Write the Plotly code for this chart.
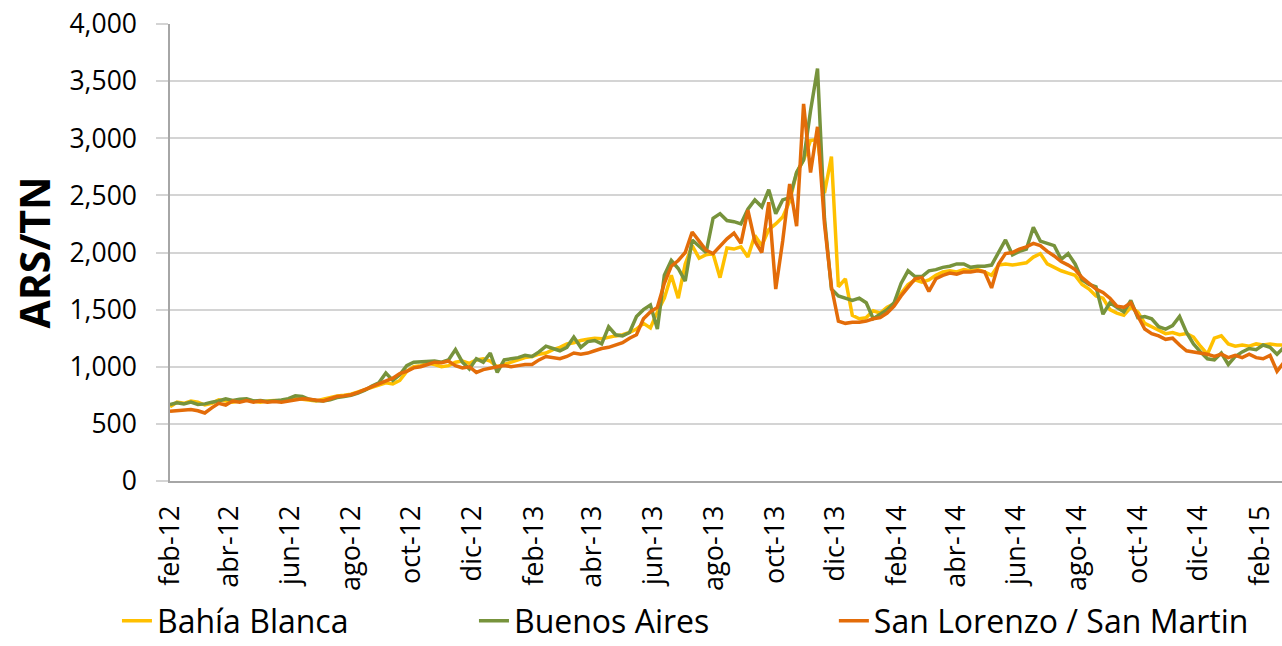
import pandas as pd
import plotly.graph_objects as go

# ── Weekly price samples, feb-2012 .. feb-2015 (ARS per tonne) ──────────────
dates = pd.date_range("2012-02-01", periods=161, freq="7D")

bahia_blanca = [
    650, 690, 680, 700, 690, 665, 680, 710, 700, 690, 700,
    710, 700, 690, 700, 705, 700, 710, 720, 715, 705,
    700, 715, 730, 745, 750, 760, 780, 800, 820, 845,
    860, 850, 880, 960, 1000, 1010, 1030, 1020, 1000, 1010,
    1040, 1050, 1030, 1060, 1070, 1050, 1000, 1020, 1040, 1060,
    1080, 1090, 1110, 1120, 1150, 1170, 1200, 1210, 1230, 1240,
    1250, 1245, 1260, 1270, 1280, 1300, 1330, 1380, 1340, 1480,
    1600, 1800, 1600, 1900, 2060, 1950, 1980, 1990, 1780, 2040,
    2030, 2050, 1960, 2150, 2060, 2200, 2250, 2310, 2450, 2700,
    2810, 2980, 2990, 2520, 2840, 1700, 1770, 1450, 1420, 1430,
    1490, 1470, 1520, 1550, 1640, 1720, 1760, 1740, 1760, 1800,
    1830, 1840, 1830, 1850, 1840, 1850, 1830, 1800, 1890, 1900,
    1890, 1900, 1910, 1960, 1990, 1900, 1870, 1840, 1820, 1800,
    1720, 1680, 1620, 1600, 1500, 1470, 1450, 1520, 1480, 1380,
    1350, 1320, 1290, 1300, 1280, 1290, 1260, 1180, 1110, 1250,
    1270, 1200, 1180, 1190, 1180, 1200, 1190, 1200, 1190, 1190,
]

buenos_aires = [
    670, 685, 675, 690, 670, 675, 690, 700, 720, 705, 715,
    720, 700, 705, 695, 700, 710, 720, 745, 740, 715,
    705, 700, 710, 730, 740, 750, 770, 795, 830, 860,
    945, 880, 930, 1010, 1040, 1045, 1050, 1050, 1040, 1060,
    1150, 1040, 980, 1070, 1040, 1120, 950, 1060, 1070, 1080,
    1100, 1090, 1130, 1180, 1160, 1140, 1170, 1260, 1170, 1220,
    1230, 1200, 1350, 1280, 1270, 1300, 1440, 1500, 1540, 1330,
    1800, 1930, 1860, 1750, 2110, 2050, 2000, 2300, 2340, 2280,
    2270, 2250, 2380, 2460, 2400, 2550, 2340, 2460, 2480, 2700,
    2810, 3240, 3610, 2300, 1680, 1620, 1600, 1580, 1600, 1560,
    1420, 1460, 1500, 1560, 1730, 1840, 1790, 1790, 1840, 1850,
    1870, 1880, 1900, 1900, 1870, 1880, 1880, 1890, 2000, 2110,
    1980, 2010, 2030, 2220, 2100, 2080, 2060, 1940, 1990, 1900,
    1760, 1720, 1700, 1460, 1560, 1520, 1480, 1580, 1430, 1440,
    1420, 1350, 1330, 1360, 1440, 1300, 1200, 1130, 1070, 1060,
    1120, 1020, 1090, 1130, 1160, 1150, 1190, 1170, 1110, 1170,
]

san_lorenzo = [
    610, 615, 620, 625, 615, 595, 640, 680, 665, 700, 690,
    705, 690, 700, 690, 695, 690, 700, 715, 720, 715,
    710, 700, 720, 740, 745, 755, 775, 800, 825, 850,
    880, 900, 940, 960, 990, 1000, 1020, 1040, 1035, 1050,
    1010, 990, 1000, 950, 975, 990, 1000, 1010, 1000, 1010,
    1020, 1020, 1060, 1090, 1080, 1070, 1090, 1120, 1110, 1120,
    1140, 1160, 1170, 1190, 1210, 1250, 1280, 1420, 1480, 1520,
    1730, 1880, 1930, 2000, 2180, 2100, 2020, 1990, 2060, 2120,
    2170, 2080, 2370, 2100, 2000, 2440, 1680, 2100, 2600, 2230,
    3300, 2700, 3100, 2250, 1700, 1400, 1380, 1390, 1390, 1400,
    1420, 1430, 1470, 1530, 1620, 1700, 1770, 1780, 1660, 1770,
    1800, 1820, 1810, 1830, 1830, 1840, 1830, 1690, 1900, 1990,
    2000, 2030, 2050, 2080, 2060, 2010, 1970, 1920, 1890, 1850,
    1780, 1730, 1680, 1650, 1600, 1530, 1520, 1560, 1450, 1330,
    1290, 1270, 1240, 1250, 1190, 1140, 1130, 1120, 1110, 1090,
    1110, 1080, 1100, 1080, 1110, 1080, 1070, 1100, 960, 1040,
]

tick_dates = [
    "2012-02-01", "2012-04-01", "2012-06-01", "2012-08-01", "2012-10-01",
    "2012-12-01", "2013-02-01", "2013-04-01", "2013-06-01", "2013-08-01",
    "2013-10-01", "2013-12-01", "2014-02-01", "2014-04-01", "2014-06-01",
    "2014-08-01", "2014-10-01", "2014-12-01", "2015-02-01",
]
tick_labels = [
    "feb-12", "abr-12", "jun-12", "ago-12", "oct-12", "dic-12",
    "feb-13", "abr-13", "jun-13", "ago-13", "oct-13", "dic-13",
    "feb-14", "abr-14", "jun-14", "ago-14", "oct-14", "dic-14", "feb-15",
]

FONT = "Open Sans"
YELLOW = "#FFC000"
GREEN = "#77933C"
ORANGE = "#E36C09"
GRID = "#d4d4d4"
AXIS = "#a6a6a6"

# name, values, colour, which legend box it sits in
series = [
    ("Bahía Blanca", bahia_blanca, YELLOW, "legend"),
    ("Buenos Aires", buenos_aires, GREEN, "legend"),
    ("San Lorenzo / San Martin", san_lorenzo, ORANGE, "legend2"),
]

fig = go.Figure()
for name, values, color, leg in series:
    fig.add_trace(go.Scatter(
        x=dates, y=values, name=name, mode="lines",
        line=dict(color=color, width=3.5),
        legend=leg,
    ))

fig.add_annotation(
    text="<b>ARS/TN</b>", textangle=-90,
    xref="paper", yref="paper", x=-0.1232, y=0.5,
    xanchor="center", yanchor="middle", showarrow=False,
    font=dict(family=FONT, size=41, color="#000000"),
)

legend_style = dict(
    orientation="h", y=-0.246, xanchor="left", yanchor="top",
    font=dict(family=FONT, size=32, color="#000000"),
    bgcolor="rgba(0,0,0,0)",
)

fig.update_layout(
    width=1282, height=646,
    margin=dict(l=170, r=0, t=24, b=165, autoexpand=False),
    paper_bgcolor="white", plot_bgcolor="white",
    font=dict(family=FONT, color="#000000"),
    showlegend=True,
    legend=dict(x=-0.0477, entrywidth=312, entrywidthmode="pixels", **legend_style),
    legend2=dict(x=0.597, **legend_style),
    xaxis=dict(
        type="date", range=["2012-02-01", "2015-02-23"],
        tickvals=tick_dates, ticktext=tick_labels, tickangle=-90,
        tickfont=dict(family=FONT, size=27, color="#000000"),
        showgrid=False, zeroline=False, ticks="",
        showline=True, linecolor=AXIS, linewidth=1.5,
        ticklabelstandoff=12, automargin=False,
    ),
    yaxis=dict(
        range=[0, 4000], dtick=500, tickformat=",d",
        tickfont=dict(family=FONT, size=26.5, color="#000000"),
        showgrid=True, gridcolor=GRID, gridwidth=1.5, zeroline=False,
        showline=True, linecolor=AXIS, linewidth=1.5,
        ticks="outside", ticklen=12, tickcolor=GRID, tickwidth=1.5,
        ticklabelstandoff=14, automargin=False,
    ),
)

fig.write_html(
    "out.html",
    config={"displayModeBar": False},
    post_script="document.body.style.margin='0';document.body.style.overflow='hidden';",
)
